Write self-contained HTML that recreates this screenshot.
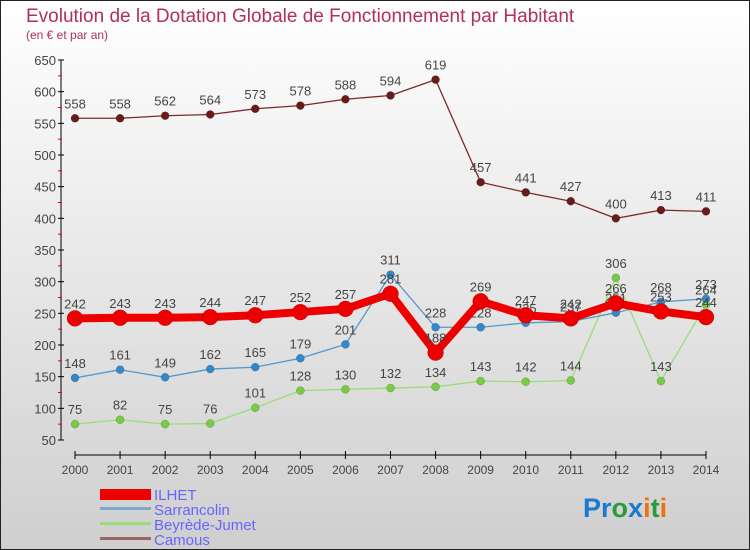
<!DOCTYPE html>
<html><head><meta charset="utf-8"><style>
body{margin:0;width:750px;height:550px;overflow:hidden;font-family:"Liberation Sans",sans-serif}
svg{display:block}
</style></head><body>
<svg id="c" width="750" height="550" xmlns="http://www.w3.org/2000/svg">
<defs><linearGradient id="bg" x1="0" y1="0" x2="0" y2="1"><stop offset="0" stop-color="#ffffff"/><stop offset="1" stop-color="#cfcfcf"/></linearGradient></defs>
<rect x="0.5" y="0.5" width="749" height="549" fill="url(#bg)" stroke="#222"/>
<text x="26" y="22" font-size="19" fill="#b0305a">Evolution de la Dotation Globale de Fonctionnement par Habitant</text>
<text x="26" y="39" font-size="12" fill="#b0305a">(en € et par an)</text>
<g id="axes"></g><g id="series"></g>
<g>
<rect x="100" y="489" width="51" height="11" fill="#e00"/>
<text x="154" y="500" font-size="15" fill="#6666ff">ILHET</text>
<rect x="100" y="507" width="51" height="3" fill="#7aaad0"/>
<text x="154" y="515" font-size="15" fill="#6666ff">Sarrancolin</text>
<rect x="100" y="522" width="51" height="3" fill="#99dd77"/>
<text x="154" y="530" font-size="15" fill="#6666ff">Beyrède-Jumet</text>
<rect x="100" y="537" width="51" height="3" fill="#996666"/>
<text x="154" y="545" font-size="15" fill="#6666ff">Camous</text>
</g>
<text x="583" y="517" font-size="27" font-weight="bold"><tspan fill="#1a7ad0">Pr</tspan><tspan fill="#2a9a3a">o</tspan><tspan fill="#1a7ad0">x</tspan><tspan fill="#f07010">i</tspan><tspan fill="#2a9a3a">t</tspan><tspan fill="#f07010">i</tspan></text>
</svg>
<script>
const years=[2000,2001,2002,2003,2004,2005,2006,2007,2008,2009,2010,2011,2012,2013,2014];
const yTicks=[50,100,150,200,250,300,350,400,450,500,550,600,650];
const ilhet=[242,243,243,244,247,252,257,281,188,269,247,242,266,253,244];
const sarrancolin=[148,161,149,162,165,179,201,311,228,228,235,237,251,268,273];
const beyrede=[75,82,75,76,101,128,130,132,134,143,142,144,306,143,264];
const camous=[558,558,562,564,573,578,588,594,619,457,441,427,400,413,411];
const NS="http://www.w3.org/2000/svg";
const X=i=>75+i*(706-75)/(years.length-1);
const Y=v=>440-(v-50)*(380/600);
function mk(t,a,p){const e=document.createElementNS(NS,t);for(const k in a)e.setAttribute(k,a[k]);p.appendChild(e);return e;}
const ax=document.getElementById('axes');
let yl=mk('line',{x1:61,y1:60,x2:61,y2:440,stroke:'#000'},ax);


yTicks.forEach((v,i)=>{
 mk('line',{x1:58,x2:64,y1:Y(v),y2:Y(v),stroke:'#000'},ax);
 if(i<yTicks.length-1)mk('line',{x1:58,x2:62,y1:Y(v+25),y2:Y(v+25),stroke:'#e00'},ax);
 const t=mk('text',{x:56,y:Y(v)+5,'font-size':13,'text-anchor':'end',fill:'#444'},ax);t.textContent=v;
 
 
});
let xl=mk('line',{x1:75,y1:455,x2:706,y2:455,stroke:'#000'},ax);


years.forEach((y,i)=>{
 mk('line',{x1:X(i),x2:X(i),y1:451,y2:459,stroke:'#000'},ax);
 const t=mk('text',{x:X(i),y:474,'font-size':12,'text-anchor':'middle',fill:'#444'},ax);t.textContent=y;
 
 
});
const sg=document.getElementById('series');
function series(data,name,color,dot,w,r){
 const g=mk('g',{},sg);
 
 
 mk('polyline',{points:data.map((v,i)=>X(i)+','+Y(v)).join(' '),fill:'none',stroke:color,'stroke-width':w,'stroke-linejoin':'round'},g);
 data.forEach((v,i)=>{
  const c=mk('circle',{cx:X(i),cy:Y(v),r:r,fill:dot,stroke:'rgba(0,0,0,0.3)','stroke-width':0.5},g);
  
  
  const t=mk('text',{x:X(i),y:Y(v)-10,'font-size':13,'text-anchor':'middle',fill:'#444'},g);t.textContent=v;
  
  
 });
}
series(camous,'camous','#7a2a2a','#6a1a1a',1.3,4);
series(beyrede,'beyrede','#99dd77','#77cc44',1.3,4);
series(sarrancolin,'sarrancolin','#5599cc','#3388cc',1.3,4);
series(ilhet,'ilhet','#ee0000','#ee0000',8,8);
</script>
</body></html>
